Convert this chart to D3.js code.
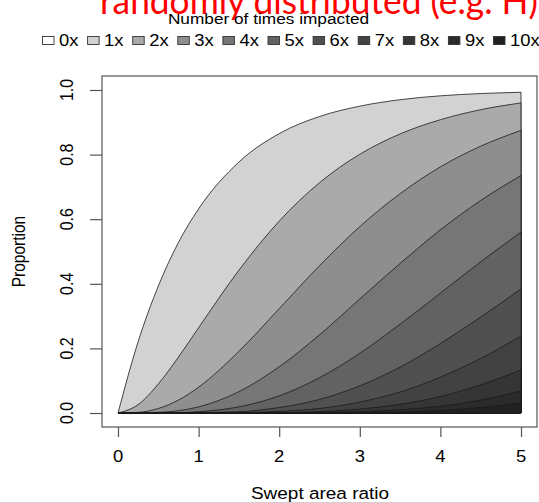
<!DOCTYPE html>
<html><head><meta charset="utf-8">
<script src="https://cdn.jsdelivr.net/npm/d3@7"></script>
<style>html,body{margin:0;padding:0;background:#fff;overflow:hidden}</style>
</head><body><svg id="chart" width="539" height="503"></svg>
<script>
// ---- data ----
const sweptRatio = [0, 0.25, 0.5, 0.75, 1, 1.5, 2, 2.5, 3, 3.5, 4, 4.5, 5];
// proportion impacted at least k times (upper boundary of band "kx")
const atLeast1  = [0, .221, .393, .528, .632, .777, .865, .918, .950, .970, .982, .989, .993];
const atLeast2  = [0, .026, .090, .173, .264, .442, .594, .713, .801, .864, .908, .939, .960];
const atLeast3  = [0, .002, .014, .040, .080, .191, .323, .456, .577, .679, .762, .826, .875];
const atLeast4  = [0, 0, .002, .007, .019, .066, .143, .242, .353, .463, .567, .658, .735];
const atLeast5  = [0, 0, 0, .001, .004, .019, .053, .109, .185, .275, .371, .468, .560];
const atLeast6  = [0, 0, 0, 0, .001, .004, .017, .042, .084, .142, .215, .297, .384];
const atLeast7  = [0, 0, 0, 0, 0, .001, .005, .014, .034, .065, .111, .169, .238];
const atLeast8  = [0, 0, 0, 0, 0, 0, .001, .004, .012, .027, .051, .087, .133];
const atLeast9  = [0, 0, 0, 0, 0, 0, 0, .001, .004, .010, .021, .040, .068];
const atLeast10 = [0, 0, 0, 0, 0, 0, 0, 0, .001, .003, .008, .017, .032];
const bandSeries = [atLeast1, atLeast2, atLeast3, atLeast4, atLeast5, atLeast6, atLeast7, atLeast8, atLeast9, atLeast10];
const legendLabels = ["0x","1x","2x","3x","4x","5x","6x","7x","8x","9x","10x"];
const bandColors = ["#ffffff","#d2d2d2","#aaaaaa","#8e8e8e","#767676","#626262","#505050","#424242","#353535","#2b2b2b","#212121"];
const xTicks = [0, 1, 2, 3, 4, 5];
const yTicks = [0, 0.2, 0.4, 0.6, 0.8, 1.0];
const titleText = "randomly distributed (e.g. H)";
const legendTitle = "Number of times impacted";
const xTitle = "Swept area ratio";
const yTitle = "Proportion";

// ---- layout ----
const svg = d3.select("#chart");
const box = {l:102, t:76, r:537, b:427};
const x = d3.scaleLinear().domain([0,5]).range([118,521]);
const y = d3.scaleLinear().domain([0,1]).range([413,90]);
const FONT = "'Liberation Sans', Arial, Helvetica, sans-serif";
const SX = 1.15;

function txt(px, py, s, size, anchor, rot, sx, fill, family){
  const g = svg.append("g").attr("transform", `translate(${px},${py}) scale(${sx||1},1)` + (rot?` rotate(${rot})`:""));
  return g.append("text").attr("text-anchor", anchor||"start").attr("font-family", family||FONT)
    .attr("font-size", size).attr("fill", fill||"#000").text(s);
}

// red title (clipped at top of the picture)
txt(100, 13.5, titleText, 37, "start", 0, 1, "#ff0000", "Lato, 'Open Sans', sans-serif")
  .attr("textLength", 438).attr("lengthAdjust", "spacingAndGlyphs");

// legend
txt(268.5, 24, legendTitle, 15, "middle", 0, SX);
const legendX = d3.scaleLinear().domain([0,10]).range([42, 493]);
legendLabels.forEach((lab,i)=>{
  const bx = legendX(i);
  svg.append("rect").attr("x", bx+0.5).attr("y", 36.5).attr("width", 11.5).attr("height", 8)
    .attr("fill", bandColors[i]).attr("stroke", "#333").attr("stroke-width", 0.9);
  txt(bx+17, 46, lab, 16, "start", 0, SX);
});

// bands
const area = d3.area().x((d,i)=>x(sweptRatio[i])).y0(y(0)).y1(d=>y(d)).curve(d3.curveMonotoneX);
bandSeries.forEach((s,k)=>{
  svg.append("path").attr("d", area(s)).attr("fill", bandColors[k+1])
    .attr("stroke", "#1a1a1a").attr("stroke-width", 0.8).attr("stroke-linejoin","round");
});

// box
svg.append("rect").attr("x", box.l).attr("y", box.t).attr("width", box.r-box.l).attr("height", box.b-box.t)
  .attr("fill", "none").attr("stroke", "#555").attr("stroke-width", 1.2);

// axes
const xAxis = d3.axisBottom(x).tickValues(xTicks).tickSize(10).tickFormat(d3.format("d"));
const gx = svg.append("g").attr("transform", `translate(0,${box.b})`).call(xAxis);
gx.select(".domain").remove();
gx.selectAll(".tick line").attr("stroke", "#555").attr("stroke-width", 1.2);
gx.selectAll(".tick text").remove();
xTicks.forEach(v=> txt(x(v), 462, String(v), 16, "middle", 0, SX));

const yAxis = d3.axisLeft(y).tickValues(yTicks).tickSize(12);
const gy = svg.append("g").attr("transform", `translate(${box.l},0)`).call(yAxis);
gy.select(".domain").remove();
gy.selectAll(".tick line").attr("stroke", "#555").attr("stroke-width", 1.2);
gy.selectAll(".tick text").remove();
yTicks.forEach(v=> txt(73, y(v), d3.format(".1f")(v), 16, "middle", -90, SX));

// axis titles
txt(320, 499, xTitle, 16.5, "middle", 0, SX);
txt(25, 251.5, yTitle, 15.5, "middle", -90, SX);

// slide separator line at bottom
svg.append("line").attr("x1",0).attr("x2",539).attr("y1",502.5).attr("y2",502.5).attr("stroke","#cfcfcf").attr("stroke-width",1);
</script></body></html>
